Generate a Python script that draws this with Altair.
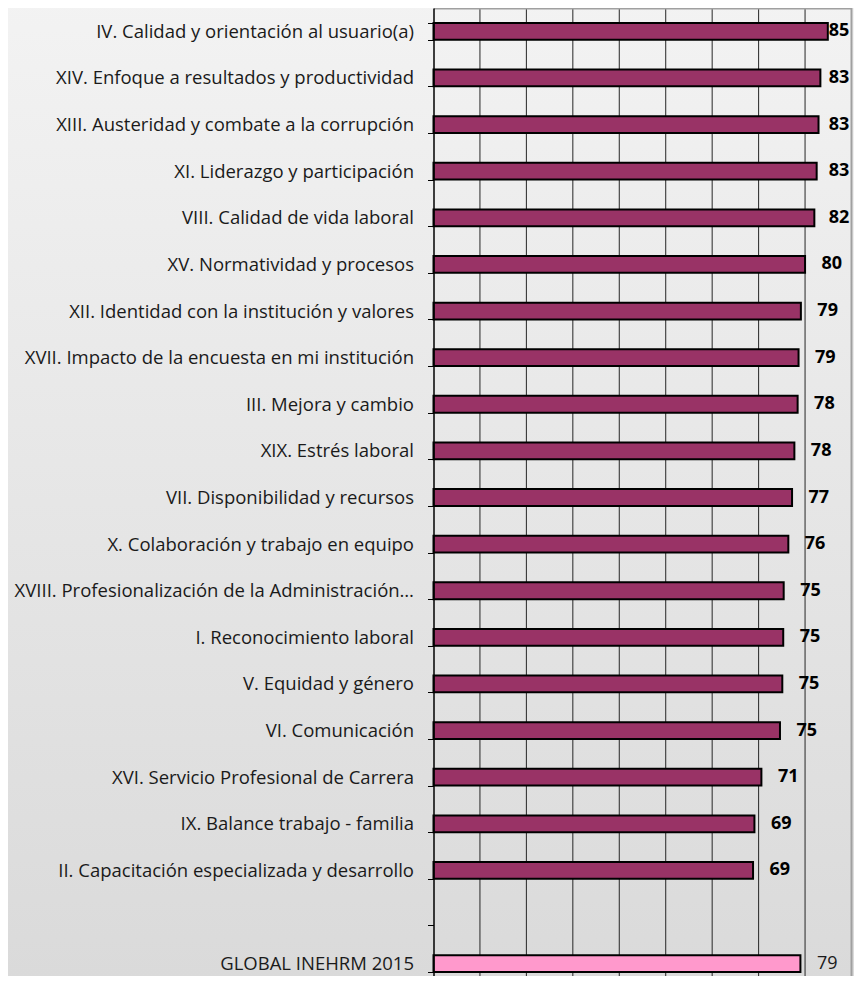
import altair as alt
import pandas as pd

categories = [
    "IV. Calidad y orientación al usuario(a)",
    "XIV. Enfoque a resultados y productividad",
    "XIII. Austeridad y combate a la corrupción",
    "XI. Liderazgo y participación",
    "VIII. Calidad de vida laboral",
    "XV. Normatividad y procesos",
    "XII. Identidad con la institución y valores",
    "XVII. Impacto de la encuesta en mi institución",
    "III. Mejora y cambio",
    "XIX. Estrés laboral",
    "VII. Disponibilidad y recursos",
    "X. Colaboración y trabajo en equipo",
    "XVIII. Profesionalización de la Administración…",
    "I. Reconocimiento laboral",
    "V. Equidad y género",
    "VI. Comunicación",
    "XVI. Servicio Profesional de Carrera",
    "IX. Balance trabajo - familia",
    "II. Capacitación especializada y desarrollo",
]
values = [84.9, 83.3, 82.9, 82.5, 82.0, 80.0, 79.1, 78.6, 78.4, 77.7,
          77.2, 76.4, 75.4, 75.3, 75.1, 74.6, 70.6, 69.1, 68.8]
value_labels = ["85", "83", "83", "83", "82", "80", "79", "79", "78", "78",
                "77", "76", "75", "75", "75", "75", "71", "69", "69"]

global_category = "GLOBAL INEHRM 2015"
global_value = 79.0
global_label = "79"

gap_row = " "
grid_ticks = [10, 20, 30, 40, 50, 60, 70, 80]
x_max = 90

order = categories + [gap_row, global_category]

df = pd.DataFrame({
    "category": categories + [global_category],
    "value": values + [global_value],
    "label": value_labels + [global_label],
    "kind": ["dim"] * len(categories) + ["global"],
})

W = 418
H = 979
FONT = "Open Sans"

y_enc = alt.Y(
    "category:N",
    sort=order,
    scale=alt.Scale(domain=order, paddingInner=0.64, paddingOuter=0.32),
    axis=alt.Axis(
        title=None, labelFont=FONT, labelFontSize=18.5, labelColor="#1a1a1a",
        labelLimit=700, labelPadding=14, tickSize=6, tickColor="#000000",
        tickWidth=1, domainColor="#000000", domainWidth=1.5,
        tickBand="extent", zindex=1,
    ),
)
x_enc = alt.X(
    "value:Q",
    scale=alt.Scale(domain=[0, x_max], nice=False, zero=True),
    axis=alt.Axis(
        orient="top", labels=False, ticks=False, grid=False, title=None,
        domainColor="#a0a0a0", domainWidth=2, zindex=1,
    ),
)

bg = alt.Chart(alt.Data(values=[{"a": 1}])).mark_rect(
    fill=alt.Gradient(
        gradient="linear",
        stops=[alt.GradientStop(color="#f3f3f3", offset=0),
               alt.GradientStop(color="#d9d9d9", offset=1)],
        x1=0, x2=0, y1=0, y2=1,
    ),
    strokeWidth=0,
).encode(
    x=alt.value(-440), x2=alt.value(W + 20),
    y=alt.value(-20), y2=alt.value(H + 30),
)

grid = alt.Chart(pd.DataFrame({"t": grid_ticks})).mark_rule(
    color="#262626", strokeWidth=1
).encode(x=alt.X("t:Q"))

border = alt.Chart(alt.Data(values=[{"a": 1}])).mark_rule(
    color="#a0a0a0", strokeWidth=2
).encode(x=alt.datum(x_max))

bars = alt.Chart(df).mark_bar(stroke="#000000", strokeWidth=2).encode(
    x=x_enc,
    y=y_enc,
    color=alt.Color(
        "kind:N",
        scale=alt.Scale(domain=["dim", "global"], range=["#993366", "#ff99cc"]),
        legend=None,
    ),
)

text_base = alt.Chart(df).transform_calculate(
    lx="min(datum.value + 3.55, 85.1)"
)

labels_dim = text_base.transform_filter(alt.datum.kind == "dim").mark_text(
    align="left", baseline="middle", font=FONT, fontSize=18,
    fontWeight="bold", color="#000000",
).encode(x=alt.X("lx:Q"), y=alt.Y("category:N", sort=order), text="label:N")

labels_glob = text_base.transform_filter(alt.datum.kind == "global").mark_text(
    align="left", baseline="middle", font=FONT, fontSize=18,
    fontWeight="normal", color="#1a1a1a",
).encode(x=alt.X("lx:Q"), y=alt.Y("category:N", sort=order), text="label:N")

chart = alt.layer(bg, grid, border, bars, labels_dim, labels_glob).properties(
    width=W,
    height=H,
    autosize=alt.AutoSizeParams(type="none"),
    padding={"left": 425.5, "top": 0, "right": 2, "bottom": -11},
).configure(
    background="#e8e8e8",
).configure_view(strokeWidth=0)

chart.save("out.html", embed_options={"renderer": "svg", "actions": False})
